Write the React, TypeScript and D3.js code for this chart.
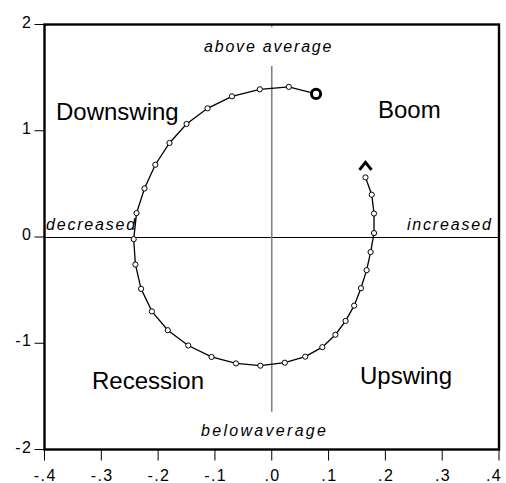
import React from 'react';
import * as d3 from 'd3';

// Cycle path (x: change, y: level), in time order from the "o" marker to the "^" marker
const xValues = [
  0.078, 0.030, -0.021, -0.070, -0.113, -0.150, -0.180, -0.205, -0.224, -0.238,
  -0.243, -0.240, -0.230, -0.211, -0.183, -0.147, -0.106, -0.063, -0.020, 0.023,
  0.059, 0.089, 0.112, 0.130, 0.145, 0.157, 0.167, 0.174, 0.180, 0.180, 0.176, 0.165,
];
const yValues = [
  1.347, 1.413, 1.390, 1.324, 1.211, 1.064, 0.885, 0.680, 0.457, 0.225,
  -0.020, -0.259, -0.488, -0.700, -0.877, -1.021, -1.129, -1.190, -1.211, -1.183,
  -1.126, -1.037, -0.920, -0.790, -0.646, -0.482, -0.312, -0.142, 0.037, 0.221, 0.398, 0.561,
];

const xTicks = [-0.4, -0.3, -0.2, -0.1, 0, 0.1, 0.2, 0.3, 0.4];
const xTickLabels = ['-.4', '-.3', '-.2', '-.1', '.0', '.1', '.2', '.3', '.4'];
const yTicks = [-2, -1, 0, 1, 2];
const yTickLabels = ['-2', '-1', '0', '1', '2'];

const quadrantLabels = ['Downswing', 'Boom', 'Recession', 'Upswing'];
const directionLabels = ['above average', 'belowaverage', 'decreased', 'increased'];

const W = 506;
const H = 483;
const FONT = '"Liberation Sans", Arial, Helvetica, sans-serif';

export default function App() {
  const x = d3.scaleLinear().domain([-0.4, 0.4]).range([44.5, 499]);
  const y = d3.scaleLinear().domain([-2, 2]).range([449.5, 24.5]);
  const pts: [number, number][] = xValues.map((v, i) => [v, yValues[i]]);
  const line = d3
    .line<[number, number]>()
    .x((d) => x(d[0]))
    .y((d) => y(d[1]));

  const first = pts[0];
  const last = pts[pts.length - 1];
  const lx = x(last[0]);
  const ly = y(last[1]);
  const y0 = Math.round(y(0)) + 0.5;

  const quadPos = [
    [56, 120],
    [378, 117.5],
    [92, 388.5],
    [360, 384],
  ];
  const dirPos = [
    [204, 52],
    [201, 436],
    [46, 230],
    [407, 230],
  ];
  const dirSpacing = [1.8, 2.3, 1.8, 1.8];

  return (
    <svg
      width={W}
      height={H}
      style={{ position: 'absolute', left: 0, top: 0, background: '#fff' }}
      fontFamily={FONT}
    >
      <rect x={0} y={0} width={W} height={H} fill="#fff" />
      {/* zero lines */}
      <line x1={x(-0.4)} x2={x(0.4)} y1={y0} y2={y0} stroke="#000" strokeWidth={1} />
      <line x1={x(0)} x2={x(0)} y1={y(1.61)} y2={y(-1.645)} stroke="#808080" strokeWidth={1.6} />
      <line x1={x(0)} x2={x(0)} y1={y(2)} y2={y(2) + 3} stroke="#808080" strokeWidth={1.2} />

      {/* path */}
      <path d={line(pts) || ''} fill="none" stroke="#000" strokeWidth={1.3} />
      {pts.slice(1).map((p, i) => (
        <circle key={i} cx={x(p[0])} cy={y(p[1])} r={2.6} fill="#fff" stroke="#000" strokeWidth={1} />
      ))}
      <circle cx={x(first[0])} cy={y(first[1])} r={4.6} fill="#fff" stroke="#000" strokeWidth={3} />
      <path
        d={`M${lx - 6},${ly - 7.5} L${lx},${ly - 15} L${lx + 6},${ly - 7.5}`}
        fill="none"
        stroke="#000"
        strokeWidth={3}
        strokeLinejoin="miter"
      />

      {/* frame */}
      <rect
        x={x(-0.4)}
        y={y(2)}
        width={x(0.4) - x(-0.4)}
        height={y(-2) - y(2)}
        fill="none"
        stroke="#000"
        strokeWidth={2.4}
      />

      {/* y axis */}
      {yTicks.map((t, i) => (
        <g key={'y' + i}>
          <line x1={x(-0.4) - 10} x2={x(-0.4)} y1={y(t)} y2={y(t)} stroke="#000" strokeWidth={1} />
          <text
            x={32}
            y={y(t) + 3.2}
            textAnchor="end"
            fontSize={16}
            letterSpacing={1.2}
            fill="#000"
          >
            {yTickLabels[i]}
          </text>
        </g>
      ))}
      {/* x axis */}
      {xTicks.map((t, i) => (
        <g key={'x' + i}>
          <line x1={x(t)} x2={x(t)} y1={y(-2)} y2={y(-2) + 11} stroke="#000" strokeWidth={1} />
          <text
            x={Math.min(x(t) + 0.8, 494)}
            y={480.5}
            textAnchor="middle"
            fontSize={16}
            letterSpacing={1.4}
            fill="#000"
          >
            {xTickLabels[i]}
          </text>
        </g>
      ))}

      {/* quadrant labels */}
      {quadrantLabels.map((s, i) => (
        <text key={'q' + i} x={quadPos[i][0]} y={quadPos[i][1]} fontSize={24} fill="#000">
          {s}
        </text>
      ))}
      {/* direction labels */}
      {directionLabels.map((s, i) => (
        <text
          key={'d' + i}
          x={dirPos[i][0]}
          y={dirPos[i][1]}
          fontSize={16}
          fontStyle="italic"
          letterSpacing={dirSpacing[i]}
          fill="#000"
        >
          {s}
        </text>
      ))}
    </svg>
  );
}
